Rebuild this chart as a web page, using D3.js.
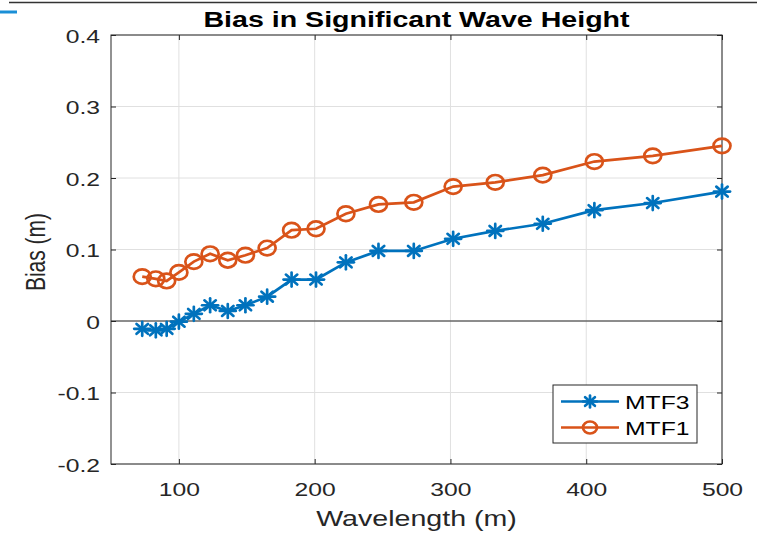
<!DOCTYPE html>
<html>
<head>
<meta charset="utf-8">
<script src="https://cdn.jsdelivr.net/npm/d3@7"></script>
<style>
  html, body { margin: 0; padding: 0; background: #fff; }
  svg { display: block; font-family: "Liberation Sans", Arial, Helvetica, sans-serif; }
</style>
</head>
<body>
<svg id="chart" width="757" height="533"></svg>
<script>
// Wavelength bins (m)
const wavelength = [73, 83, 91, 100, 111, 123, 136, 149, 165, 183, 201, 223, 247, 273, 302, 333, 368, 406, 449, 500];
// Bias in significant wave height (m) for each model
const mtf3 = [-0.011, -0.013, -0.011, -0.001, 0.010, 0.022, 0.014, 0.022, 0.034, 0.058, 0.058, 0.082, 0.098, 0.098, 0.115, 0.126, 0.136, 0.155, 0.165, 0.181];
const mtf1 = [0.062, 0.059, 0.056, 0.068, 0.083, 0.094, 0.085, 0.092, 0.102, 0.127, 0.129, 0.150, 0.163, 0.166, 0.188, 0.194, 0.204, 0.223, 0.231, 0.245];
const seriesNames = ["MTF3", "MTF1"];
const xTicks = [100, 200, 300, 400, 500];
const yTicks = [-0.2, -0.1, 0, 0.1, 0.2, 0.3, 0.4];

const svg = d3.select("#chart");
const plotL = 111, plotR = 722, plotT = 35, plotB = 464;
const axisColor = "#262626";
const blue = "#0072BD", orange = "#D95319";
const sx = 1.3; // horizontal text widening used throughout the figure

// page edge decorations
svg.append("line").attr("x1", 9).attr("x2", 757).attr("y1", 2.5).attr("y2", 2.5)
  .attr("stroke", "#333").attr("stroke-width", 1.5);
svg.append("line").attr("x1", 0).attr("x2", 17).attr("y1", 12).attr("y2", 12)
  .attr("stroke", "#1a8fd6").attr("stroke-width", 3);

const x = d3.scaleLinear().domain([50, 500]).range([plotL, plotR]);
const y = d3.scaleLinear().domain([-0.2, 0.4]).range([plotB, plotT]);

// grid
const grid = svg.append("g");
grid.selectAll(".gx").data(xTicks).join("line")
  .attr("x1", d => x(d)).attr("x2", d => x(d)).attr("y1", plotT).attr("y2", plotB)
  .attr("stroke", "#e0e0e0").attr("stroke-width", 1);
grid.selectAll(".gy").data(yTicks).join("line")
  .attr("x1", plotL).attr("x2", plotR).attr("y1", d => y(d)).attr("y2", d => y(d))
  .attr("stroke", "#e0e0e0").attr("stroke-width", 1);

// zero reference line
svg.append("line").attr("x1", plotL).attr("x2", plotR).attr("y1", y(0)).attr("y2", y(0))
  .attr("stroke", "#2a2a2a").attr("stroke-width", 1.2);

// axes with inward ticks
const fmt = d => d === 0 ? "0" : d3.format(".1f")(d).replace("\u2212", "-");
const xAxis = svg.append("g").attr("transform", `translate(0,${plotB})`)
  .call(d3.axisBottom(x).tickValues(xTicks).tickSizeInner(-5).tickSizeOuter(0).tickPadding(0));
const xAxisTop = svg.append("g").attr("transform", `translate(0,${plotT})`)
  .call(d3.axisTop(x).tickValues(xTicks).tickSizeInner(-5).tickSizeOuter(0).tickFormat(""));
const yAxis = svg.append("g").attr("transform", `translate(${plotL},0)`)
  .call(d3.axisLeft(y).tickValues(yTicks).tickSizeInner(-5).tickSizeOuter(0).tickPadding(0).tickFormat(fmt));
const yAxisRight = svg.append("g").attr("transform", `translate(${plotR},0)`)
  .call(d3.axisRight(y).tickValues(yTicks).tickSizeInner(-5).tickSizeOuter(0).tickFormat(""));
[xAxis, xAxisTop, yAxis, yAxisRight].forEach(g => {
  g.select(".domain").remove();
  g.selectAll("line").attr("stroke", axisColor);
  g.selectAll("text").attr("fill", axisColor).style("font-size", "19px")
    .style("font-family", "'Liberation Sans', Arial, sans-serif");
});
xAxis.selectAll("text").attr("x", 0).attr("y", 0).attr("dy", 0)
  .attr("transform", `translate(0,32) scale(${sx},1)`);
yAxis.selectAll("text").attr("x", 0).attr("dy", 0)
  .attr("transform", `translate(-11,7) scale(${sx},1)`);

svg.append("rect").attr("x", plotL).attr("y", plotT).attr("width", plotR - plotL).attr("height", plotB - plotT)
  .attr("fill", "none").attr("stroke", axisColor).attr("stroke-width", 1);

// series
const line = d3.line().x(d => x(d[0])).y(d => y(d[1]));
const d3pts = wavelength.map((w, i) => [w, mtf3[i]]);
const d1pts = wavelength.map((w, i) => [w, mtf1[i]]);

function asterisk(g, cx, cy, r, color) {
  for (let k = 0; k < 4; k++) {
    const a = k * Math.PI / 4;
    g.append("line")
      .attr("x1", cx - r * 1.15 * Math.cos(a)).attr("y1", cy - r * Math.sin(a))
      .attr("x2", cx + r * 1.15 * Math.cos(a)).attr("y2", cy + r * Math.sin(a))
      .attr("stroke", color).attr("stroke-width", 2.7).attr("stroke-linecap", "round");
  }
}

svg.append("path").datum(d1pts).attr("d", line).attr("fill", "none")
  .attr("stroke", orange).attr("stroke-width", 2.7);
svg.append("g").selectAll("ellipse").data(d1pts).join("ellipse")
  .attr("cx", d => x(d[0])).attr("cy", d => y(d[1])).attr("rx", 8.5).attr("ry", 7.3)
  .attr("fill", "none").attr("stroke", orange).attr("stroke-width", 2.7);

svg.append("path").datum(d3pts).attr("d", line).attr("fill", "none")
  .attr("stroke", blue).attr("stroke-width", 2.7);
const starG = svg.append("g");
d3pts.forEach(d => asterisk(starG, x(d[0]), y(d[1]), 7, blue));

// title and labels
const cx = (plotL + plotR) / 2;
svg.append("text").attr("transform", `translate(${cx},27) scale(${sx},1)`).attr("text-anchor", "middle")
  .style("font-size", "22px").style("font-weight", "bold").attr("fill", "#000")
  .text("Bias in Significant Wave Height");
svg.append("text").attr("transform", `translate(${cx},526) scale(${sx},1)`).attr("text-anchor", "middle")
  .style("font-size", "22px").attr("fill", axisColor).text("Wavelength (m)");
svg.append("text").attr("transform", `translate(45,252) scale(${sx},1) rotate(-90)`)
  .attr("text-anchor", "middle").style("font-size", "21px").attr("fill", axisColor).text("Bias (m)");

// legend
const lg = svg.append("g");
lg.append("rect").attr("x", 553).attr("y", 385).attr("width", 144).attr("height", 58)
  .attr("fill", "#fff").attr("stroke", axisColor).attr("stroke-width", 1);
const legendRows = [
  { name: seriesNames[0], color: blue, y: 401.5, marker: "star" },
  { name: seriesNames[1], color: orange, y: 427.5, marker: "circle" }
];
legendRows.forEach(r => {
  lg.append("line").attr("x1", 561).attr("x2", 619).attr("y1", r.y).attr("y2", r.y)
    .attr("stroke", r.color).attr("stroke-width", 2.7);
  if (r.marker === "star") asterisk(lg, 590, r.y, 6, r.color);
  else lg.append("ellipse").attr("cx", 590).attr("cy", r.y).attr("rx", 7).attr("ry", 6)
    .attr("fill", "none").attr("stroke", r.color).attr("stroke-width", 2.7);
  lg.append("text").attr("transform", `translate(625,${r.y + 7}) scale(${sx},1)`)
    .style("font-size", "19px").attr("fill", "#000").text(r.name);
});
</script>
</body>
</html>
